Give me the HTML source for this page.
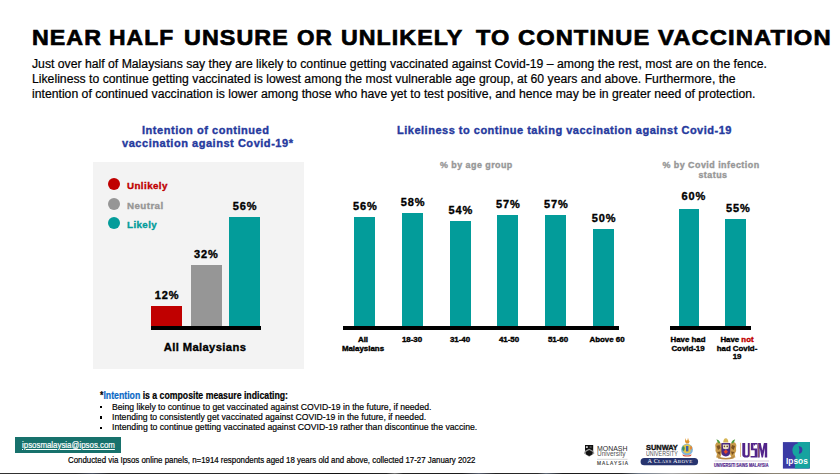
<!DOCTYPE html>
<html><head><meta charset="utf-8">
<style>
html,body{margin:0;padding:0;background:#fff;}
body{width:840px;height:474px;position:relative;overflow:hidden;font-family:"Liberation Sans",sans-serif;}
.t{position:absolute;white-space:nowrap;line-height:1;transform-origin:0 0;}
.c{position:absolute;white-space:nowrap;line-height:1;text-align:center;transform-origin:50% 0;}
.b{font-weight:700;}
.k{-webkit-text-stroke:0.35px currentColor;}
.r{-webkit-text-stroke:0.2px currentColor;}
.bar{position:absolute;}
.teal{background:#039c9a;}
.axis{position:absolute;background:#000;}
.blue{color:#263a9e;}
.ttl{top:27.3px;font-size:21.7px;letter-spacing:1px;-webkit-text-stroke:0.7px #000;color:#000;}
</style></head><body>

<!-- Title -->
<div class="t b ttl" style="left:31.93px;transform:scaleX(1.0698);">NEAR</div>
<div class="t b ttl" style="left:108.94px;transform:scaleX(1.055);">HALF</div>
<div class="t b ttl" style="left:183.93px;transform:scaleX(1.0737);">UNSURE</div>
<div class="t b ttl" style="left:296.5px;transform:scaleX(1.0364);">OR</div>
<div class="t b ttl" style="left:341.43px;transform:scaleX(1.069);">UNLIKELY</div>
<div class="t b ttl" style="left:475.8px;transform:scaleX(1.0833);">TO</div>
<div class="t b ttl" style="left:518.3px;transform:scaleX(1.0908);">CONTINUE</div>
<div class="t b ttl" style="left:658.3px;transform:scaleX(1.0968);">VACCINATION</div>

<!-- Paragraph -->
<div class="t r" style="left:32px;top:57.64px;font-size:12px;transform:scaleX(1.0182);color:#000;">Just over half of Malaysians say they are likely to continue getting vaccinated against Covid-19 – among the rest, most are on the fence.</div>
<div class="t r" style="left:32px;top:73.4px;font-size:12px;transform:scaleX(1.0182);color:#000;">Likeliness to continue getting vaccinated is lowest among the most vulnerable age group, at 60 years and above. Furthermore, the</div>
<div class="t r" style="left:32px;top:88.2px;font-size:12px;transform:scaleX(1.0182);color:#000;">intention of continued vaccination is lower among those who have yet to test positive, and hence may be in greater need of protection.</div>

<!-- Chart 1 -->
<div class="t b blue k" style="left:142px;top:125.3px;font-size:10.5px;transform:scaleX(1.05);letter-spacing:0.51px;">Intention of continued</div>
<div class="t b blue k" style="left:121.5px;top:138.1px;font-size:10.5px;transform:scaleX(1.05);letter-spacing:0.5px;">vaccination against Covid-19*</div>

<div style="position:absolute;left:92.6px;top:161.7px;width:211.7px;height:207.3px;background:#f3f3f3;"></div>

<div style="position:absolute;left:108px;top:178px;width:12px;height:12px;border-radius:50%;background:#c00000;"></div>
<div style="position:absolute;left:108px;top:198.2px;width:12px;height:12px;border-radius:50%;background:#969696;"></div>
<div style="position:absolute;left:108px;top:217.2px;width:12px;height:12px;border-radius:50%;background:#039c9a;"></div>
<div class="t b k" style="left:126.8px;top:180.9px;font-size:9.5px;transform:scaleX(1.03);letter-spacing:0.4px;color:#c00000;">Unlikely</div>
<div class="t b k" style="left:126.8px;top:200.8px;font-size:9.5px;transform:scaleX(1.03);letter-spacing:0.4px;color:#969696;">Neutral</div>
<div class="t b k" style="left:126.8px;top:219.8px;font-size:9.5px;transform:scaleX(1.03);letter-spacing:0.4px;color:#039c9a;">Likely</div>

<div class="bar" style="left:151px;top:305.5px;width:31px;height:21px;background:#c00000;"></div>
<div class="bar" style="left:190.5px;top:265.3px;width:31px;height:61.2px;background:#969696;"></div>
<div class="bar teal" style="left:229px;top:217px;width:31px;height:109.5px;"></div>
<div class="axis" style="left:150.5px;top:326.3px;width:110px;height:4px;"></div>

<div class="c b k" style="left:137.05px;width:60px;top:289.8px;font-size:11px;letter-spacing:0.9px;">12%</div>
<div class="c b k" style="left:176.35px;width:60px;top:249.3px;font-size:11px;letter-spacing:0.9px;">32%</div>
<div class="c b k" style="left:215.05px;width:60px;top:201.3px;font-size:11px;letter-spacing:0.9px;">56%</div>
<div class="c b k" style="left:155.14px;width:100px;top:341.6px;font-size:11px;transform:scaleX(1.02);letter-spacing:0.37px;">All Malaysians</div>

<!-- Chart 2 -->
<div class="t b blue k" style="left:397.2px;top:124.8px;font-size:10.5px;transform:scaleX(1.05);letter-spacing:0.47px;">Likeliness to continue taking vaccination against Covid-19</div>
<div class="t b k" style="left:440px;top:160.7px;font-size:8.5px;transform:scaleX(1.05);letter-spacing:0.43px;color:#979797;">% by age group</div>

<div class="bar teal" style="left:354.3px;top:217px;width:21px;height:109.5px;"></div>
<div class="bar teal" style="left:402.1px;top:212.8px;width:21px;height:113.7px;"></div>
<div class="bar teal" style="left:449.9px;top:220.7px;width:21px;height:105.8px;"></div>
<div class="bar teal" style="left:497.4px;top:214.7px;width:21px;height:111.8px;"></div>
<div class="bar teal" style="left:545px;top:214.7px;width:21px;height:111.8px;"></div>
<div class="bar teal" style="left:593.2px;top:228.9px;width:21px;height:97.6px;"></div>
<div class="axis" style="left:343px;top:326.3px;width:275.7px;height:4.2px;"></div>

<div class="c b k" style="left:335.25px;width:60px;top:200.8px;font-size:11px;letter-spacing:0.9px;">56%</div>
<div class="c b k" style="left:383.05px;width:60px;top:197px;font-size:11px;letter-spacing:0.9px;">58%</div>
<div class="c b k" style="left:430.85px;width:60px;top:204.9px;font-size:11px;letter-spacing:0.9px;">54%</div>
<div class="c b k" style="left:478.35px;width:60px;top:198.9px;font-size:11px;letter-spacing:0.9px;">57%</div>
<div class="c b k" style="left:526.45px;width:60px;top:198.9px;font-size:11px;letter-spacing:0.9px;">57%</div>
<div class="c b k" style="left:574.15px;width:60px;top:213.1px;font-size:11px;letter-spacing:0.9px;">50%</div>

<div class="c b k" style="left:332.5px;width:60px;top:336.3px;font-size:7px;transform:scaleX(1.13);">All</div>
<div class="c b k" style="left:332.5px;width:60px;top:345.3px;font-size:7px;transform:scaleX(1.13);">Malaysians</div>
<div class="c b k" style="left:381.5px;width:60px;top:336.3px;font-size:7px;transform:scaleX(1.13);">18-30</div>
<div class="c b k" style="left:430px;width:60px;top:336.3px;font-size:7px;transform:scaleX(1.13);">31-40</div>
<div class="c b k" style="left:479.1px;width:60px;top:336.3px;font-size:7px;transform:scaleX(1.13);">41-50</div>
<div class="c b k" style="left:527.9px;width:60px;top:336.3px;font-size:7px;transform:scaleX(1.13);">51-60</div>
<div class="c b k" style="left:576.7px;width:60px;top:336.3px;font-size:7px;transform:scaleX(1.13);">Above 60</div>

<!-- Chart 3 -->
<div class="c b k" style="left:661.3px;width:100px;top:160.7px;font-size:8.5px;transform:scaleX(1.05);letter-spacing:0.45px;color:#979797;">% by Covid infection</div>
<div class="c b k" style="left:662.7px;width:100px;top:170.7px;font-size:8.5px;transform:scaleX(1.05);letter-spacing:0.45px;color:#979797;">status</div>

<div class="bar teal" style="left:679px;top:208.7px;width:20.3px;height:117.8px;"></div>
<div class="bar teal" style="left:725.4px;top:218.9px;width:20.6px;height:107.6px;"></div>
<div class="axis" style="left:670.4px;top:326.3px;width:80.2px;height:4.1px;"></div>

<div class="c b k" style="left:663.95px;width:60px;top:191.1px;font-size:11px;letter-spacing:0.9px;">60%</div>
<div class="c b k" style="left:708.35px;width:60px;top:202.7px;font-size:11px;letter-spacing:0.9px;">55%</div>

<div class="c b k" style="left:658.2px;width:60px;top:336px;font-size:7px;transform:scaleX(1.12);">Have had</div>
<div class="c b k" style="left:658.2px;width:60px;top:344.9px;font-size:7px;transform:scaleX(1.12);">Covid-19</div>
<div class="c b k" style="left:707.1px;width:60px;top:336px;font-size:7px;transform:scaleX(1.12);">Have <span style="color:#c00000">not</span></div>
<div class="c b k" style="left:706.9px;width:60px;top:344.9px;font-size:7px;transform:scaleX(1.12);">had Covid-</div>
<div class="c b k" style="left:706.9px;width:60px;top:352.8px;font-size:7px;transform:scaleX(1.12);">19</div>

<!-- Footnote -->
<div class="t b" style="left:99.5px;top:390.7px;font-size:10px;transform:scaleX(0.872);-webkit-text-stroke:0.2px currentColor;"><span>*</span><span style="color:#0a68c6">Intention</span> is a composite measure indicating:</div>
<div style="position:absolute;left:99.9px;top:406px;width:2.4px;height:2.4px;background:#000;"></div>
<div style="position:absolute;left:99.9px;top:416.2px;width:2.4px;height:2.4px;background:#000;"></div>
<div style="position:absolute;left:99.9px;top:426.8px;width:2.4px;height:2.4px;background:#000;"></div>
<div class="t r" style="left:111.9px;top:401.85px;font-size:9.8px;transform:scaleX(0.882);">Being likely to continue to get vaccinated against COVID-19 in the future, if needed.</div>
<div class="t r" style="left:111.9px;top:411.95px;font-size:9.8px;transform:scaleX(0.882);">Intending to consistently get vaccinated against COVID-19 in the future, if needed.</div>
<div class="t r" style="left:111.9px;top:422.45px;font-size:9.8px;transform:scaleX(0.886);">Intending to continue getting vaccinated against COVID-19 rather than discontinue the vaccine.</div>

<!-- Email badge -->
<div style="position:absolute;left:15px;top:436.5px;width:106.4px;height:16px;background:#17716c;"></div>
<div class="t r" style="left:21.7px;top:441.2px;font-size:9px;transform:scaleX(0.875);color:#fff;text-decoration:underline;">ipsosmalaysia@ipsos.com</div>

<div class="t r" style="left:68.2px;top:456.2px;font-size:8.6px;transform:scaleX(0.9155);color:#000;">Conducted via Ipsos online panels, n=1914 respondents aged 18 years old and above, collected 17-27 January 2022</div>

<!-- Logos -->
<svg style="position:absolute;left:0;top:0" width="840" height="474" viewBox="0 0 840 474">
  <!-- Monash shield -->
  <path d="M584.6 451.4 L589.2 448.2 L593.8 451.4 L594.4 453.4 L589.2 456.8 L584 453.4 Z" fill="#9a9a9a"/>
  <path d="M585 445.1 L593.2 445.1 L593.2 451 L589.1 448.8 L585 451 Z" fill="#111"/>
  <path d="M585.6 452 L589.2 449.9 L592.8 452 L592.2 454.4 L589.2 456 L586.2 454.4 Z" fill="#111"/>
  <rect x="585.9" y="446.2" width="1.9" height="1.8" fill="#cfcfcf"/>
  <rect x="589.6" y="446.2" width="2" height="1.6" fill="#555"/>
  <line x1="597" y1="459.3" x2="627.5" y2="459.3" stroke="#bbb" stroke-width="0.6"/>
  <!-- Sunway pill -->
  <rect x="640.6" y="458.1" width="57.5" height="7.2" rx="3.6" fill="#27346f"/>
  <!-- Sunway crest -->
  <path d="M685.4 438 L686.2 440.6 L687.4 440.2 L688 437.8 L688.8 440.4 L689.6 441.6 L688.6 443.6 L686 443.6 L685 441.4 Z" fill="#e0962e"/>
  <ellipse cx="687" cy="449.6" rx="5.9" ry="5.9" fill="#7fb4dc"/>
  <path d="M683.2 445.4 Q687 443.4 690.8 445.4 L690.4 452 Q687 454.4 683.6 452 Z" fill="#e4c648"/>
  <ellipse cx="683.4" cy="448.6" rx="1.3" ry="2.4" fill="#3f8f5a"/>
  <ellipse cx="691" cy="447.8" rx="1.2" ry="1.9" fill="#e08a3a"/>
  <path d="M686 446 L688.4 446 L688.4 451.4 L686 451.4 Z" fill="#3a62aa"/>
  <path d="M682.4 454.2 Q687 456.6 691.6 454.2 L691 456 Q687 457 683 456 Z" fill="#d8583e"/>
  <!-- USM crest -->
  <path d="M715.2 445 Q716 441.6 719 442.2 L721.8 444 L722.6 450 L721.2 455 L719.8 458 L716.2 457.6 L717 454 Q714.6 451 715.6 448.6 Z" fill="#c89a4a"/>
  <path d="M736.4 445 Q735.6 441.6 732.6 442.2 L729.8 444 L729 450 L730.4 455 L731.8 458 L735.4 457.6 L734.6 454 Q737 451 736 448.6 Z" fill="#c89a4a"/>
  <path d="M716.5 446 L719.5 445 L720.5 448 L718 450 Z M717 452 L720.6 451.5 L719.5 455 Z" fill="#7a5222"/>
  <path d="M735.1 446 L732.1 445 L731.1 448 L733.6 450 Z M734.6 452 L731 451.5 L732.1 455 Z" fill="#7a5222"/>
  <path d="M716.4 439.2 Q718.8 439.6 720.4 442.6 L719 443.4 Q717 441.8 716.4 439.2 Z" fill="#4e9a3c"/>
  <path d="M735.2 439.2 Q732.8 439.6 731.2 442.6 L732.6 443.4 Q734.6 441.8 735.2 439.2 Z" fill="#4e9a3c"/>
  <path d="M723.2 442.4 Q723.4 438.6 725.8 438.3 Q728.2 438.6 728.4 442.4 Z" fill="#d6b656"/>
  <path d="M721.4 443 L730.2 443 L730.2 451.5 Q730.2 456.4 725.8 456.4 Q721.4 456.4 721.4 451.5 Z" fill="#4a2a82"/>
  <path d="M722.8 444.4 L728.8 444.4 L728.6 448.6 Q725.8 450 723 448.6 Z" fill="#efe6c8"/>
  <circle cx="724.4" cy="446.4" r="0.8" fill="#6a4a2a"/>
  <circle cx="727.2" cy="446.4" r="0.8" fill="#6a4a2a"/>
  <path d="M723.6 451.8 L725.8 449.6 L728 451.8 L725.8 454 Z" fill="#e2462c"/>
  <path d="M717.6 456 Q725.8 459.8 734 456 L733.6 458.4 Q725.8 460.6 718 458.4 Z" fill="#b88a46"/>
  <line x1="740.5" y1="442.8" x2="740.5" y2="457" stroke="#d8b060" stroke-width="0.7"/>
  <line x1="714.6" y1="461" x2="769" y2="461" stroke="#b8a8c8" stroke-width="0.6"/>
  <!-- USM letters -->
  <g fill="#52248a">
    <path d="M742.3 442.9 H745.2 V454.6 Q745.2 455.6 746.4 455.6 Q747.8 455.6 747.8 454.6 V442.9 H749.8 V454.8 Q749.8 457.6 746.2 457.6 Q742.3 457.6 742.3 454.8 Z"/>
    <path d="M750.9 442.9 H757 V444.4 H755 V445.6 H753.9 V444.4 H753.4 V448.6 H757 V457.5 H750.6 V455.9 H754.7 V450.2 H750.9 Z"/>
    <path d="M757.4 442.9 H760.7 L762.3 450.5 L763.9 442.9 H767.2 V457.5 H764.8 V448 L763 457.5 H761.6 L759.7 448 V457.5 H757.4 Z"/>
  </g>
  <line x1="749.9" y1="443.5" x2="749.9" y2="457" stroke="#d89040" stroke-width="0.5"/>
  <line x1="758.4" y1="443.5" x2="758.4" y2="457" stroke="#d89040" stroke-width="0.5"/>
  <!-- Ipsos -->
  <rect x="782.9" y="442.1" width="27" height="26.5" fill="#3a3aa4"/>
  <path d="M797.8 442.1 L809.9 442.1 L809.9 466.4 Q809.9 468.6 807.7 468.6 L794.8 468.6 L795.6 457 Z" fill="#16a39f"/>
  <ellipse cx="797.4" cy="450.4" rx="5" ry="6.6" fill="#16a39f"/>
  <path d="M798.6 446 Q802.6 446.6 802.4 450 Q802.2 453.4 798.8 453.8 Q800.2 450 798.6 446 Z" fill="#3a3aa4"/>
</svg>
<div class="t" style="left:596.6px;top:444.8px;font-size:7px;transform:scaleX(0.99);color:#2a2a2a;">MONASH</div>
<div class="t" style="left:596.6px;top:451.2px;font-size:6.9px;transform:scaleX(0.94);color:#555;">University</div>
<div class="t" style="left:597px;top:462.4px;font-size:4.8px;color:#3a3a3a;letter-spacing:1.05px;-webkit-text-stroke:0.15px #3a3a3a;">MALAYSIA</div>

<div class="t b" style="left:646.3px;top:444.3px;font-size:7.2px;transform:scaleX(1.03);-webkit-text-stroke:0.35px #111;color:#111;">SUNWAY</div>
<div class="t" style="left:646.4px;top:450.2px;font-size:7.2px;transform:scaleX(0.735);color:#555;">UNIVERSITY</div>
<div class="t" style="left:647.4px;top:458.1px;font-size:6.2px;transform:scaleX(1.0);color:#fff;font-family:'Liberation Serif',serif;letter-spacing:0.3px;">A C<span style="font-size:5px">LASS</span> A<span style="font-size:5px">BOVE</span></div>


<div class="t b" style="left:714.4px;top:462.9px;font-size:5.3px;transform:scaleX(0.715);color:#52248a;-webkit-text-stroke:0.2px #52248a;">UNIVERSITI SAINS MALAYSIA</div>

<div class="t b" style="left:786.1px;top:456.6px;font-size:8.7px;transform:scaleX(0.96);color:#fff;">Ipsos</div>

<!-- bottom strip -->
<div style="position:absolute;left:0;top:472.5px;width:840px;height:1.5px;background:linear-gradient(90deg,#333 0%,#2a2a2a 9%,#4a5060 11%,#222 13%,#2a2a2a 30%,#111 40%,#222 46%,#777 47%,#222 48%,#1a1a1a 55%,#5a6070 57%,#222 59%,#2a2a2a 64%,#606a78 65%,#1a1a1a 67%,#222 74%,#707a88 76%,#a8a8a8 80%,#8a8478 84%,#5a5a58 88%,#8a8272 92%,#9a9282 100%);"></div>

</body></html>
